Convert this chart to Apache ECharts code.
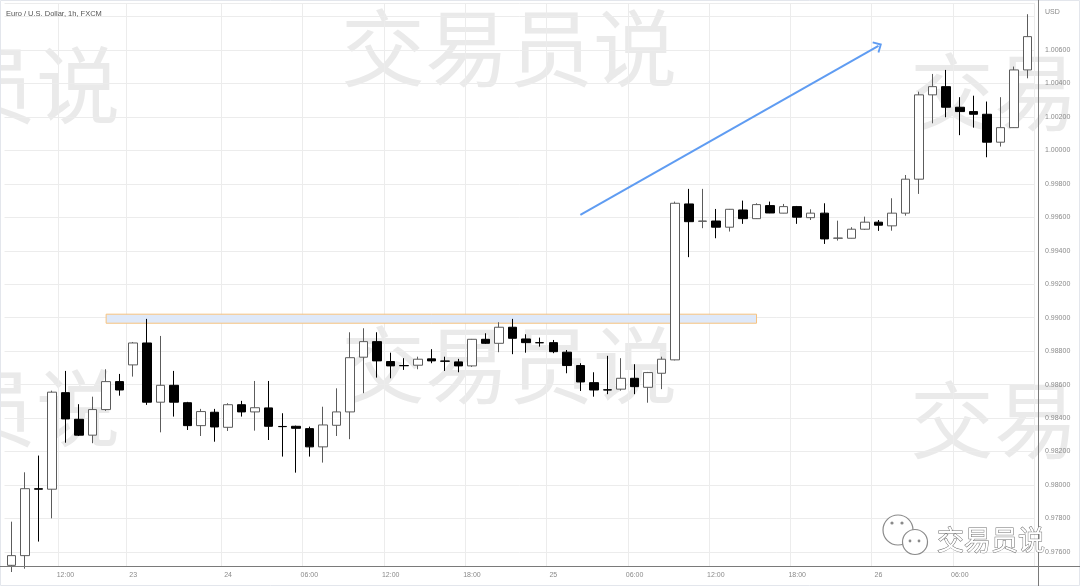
<!DOCTYPE html>
<html>
<head>
<meta charset="utf-8">
<script src="https://cdn.jsdelivr.net/npm/echarts@6/dist/echarts.min.js"></script>
<style>
html,body{margin:0;padding:0;background:#fff;}
#chart{width:1080px;height:586px;}
</style>
</head>
<body>
<div id="chart"></div>
<script>
// Hourly bars (New York time): Fri 21, Sun 23 (session open), Mon 24, Tue 25, Wed 26
const categories = [
  '21 08:00','21 09:00','21 10:00','21 11:00','21 12:00','21 13:00','21 14:00','21 15:00','21 16:00',
  '23 17:00','23 18:00','23 19:00','23 20:00','23 21:00','23 22:00','23 23:00',
  '24 00:00','24 01:00','24 02:00','24 03:00','24 04:00','24 05:00','24 06:00','24 07:00',
  '24 08:00','24 09:00','24 10:00','24 11:00','24 12:00','24 13:00','24 14:00','24 15:00',
  '24 16:00','24 17:00','24 18:00','24 19:00','24 20:00','24 21:00','24 22:00','24 23:00',
  '25 00:00','25 01:00','25 02:00','25 03:00','25 04:00','25 05:00','25 06:00','25 07:00',
  '25 08:00','25 09:00','25 10:00','25 11:00','25 12:00','25 13:00','25 14:00','25 15:00',
  '25 16:00','25 17:00','25 18:00','25 19:00','25 20:00','25 21:00','25 22:00','25 23:00',
  '26 00:00','26 01:00','26 02:00','26 03:00','26 04:00','26 05:00','26 06:00','26 07:00',
  '26 08:00','26 09:00','26 10:00','26 11:00'
];

const opens = [
  0.97520,0.97578,0.97978,0.97975,0.98552,0.98393,0.98298,0.98451,0.98618,
  0.98718,0.98849,0.98495,0.98596,0.98492,0.98355,0.98435,
  0.98345,0.98480,0.98437,0.98461,0.98350,0.98351,0.98337,0.98228,
  0.98357,0.98437,0.98764,0.98857,0.98738,0.98714,0.98716,0.98754,
  0.98741,0.98736,0.98712,0.98871,0.98847,0.98943,0.98873,0.98851,
  0.98851,0.98794,0.98714,0.98612,0.98569,0.98573,0.98638,0.98584,
  0.98668,0.98748,0.99680,0.99576,0.99578,0.99541,0.99644,0.99592,
  0.99670,0.99625,0.99664,0.99598,0.99625,0.99475,0.99475,0.99529,
  0.99571,0.99549,0.99625,0.99828,1.00332,1.00381,1.00258,1.00232,
  1.00216,1.00049,1.00136,1.00481
];
const closes = [
  0.97578,0.97978,0.97975,0.98555,0.98395,0.98298,0.98451,0.98618,0.98568,
  0.98849,0.98495,0.98596,0.98495,0.98355,0.98439,0.98347,
  0.98480,0.98437,0.98462,0.98351,0.98349,0.98339,0.98228,0.98359,
  0.98437,0.98761,0.98857,0.98742,0.98712,0.98713,0.98752,0.98742,
  0.98740,0.98712,0.98871,0.98847,0.98943,0.98877,0.98851,0.98850,
  0.98797,0.98714,0.98616,0.98568,0.98568,0.98638,0.98588,0.98672,
  0.98752,0.99684,0.99574,0.99578,0.99541,0.99648,0.99592,0.99676,
  0.99626,0.99664,0.99601,0.99625,0.99471,0.99476,0.99529,0.99571,
  0.99553,0.99625,0.99828,1.00332,1.00381,1.00258,1.00232,1.00216,
  1.00049,1.00136,1.00481,1.00680
];
const lows = [
  0.97480,0.97500,0.97662,0.97801,0.98253,0.98293,0.98250,0.98443,0.98534,
  0.98648,0.98479,0.98315,0.98409,0.98329,0.98293,0.98259,
  0.98323,0.98409,0.98325,0.98269,0.98170,0.98074,0.98170,0.98134,
  0.98293,0.98274,0.98549,0.98642,0.98638,0.98688,0.98692,0.98728,
  0.98682,0.98674,0.98706,0.98843,0.98794,0.98782,0.98791,0.98827,
  0.98788,0.98668,0.98562,0.98528,0.98543,0.98564,0.98543,0.98492,
  0.98573,0.98745,0.99362,0.99535,0.99475,0.99515,0.99561,0.99590,
  0.99625,0.99624,0.99561,0.99584,0.99441,0.99461,0.99474,0.99525,
  0.99519,0.99520,0.99610,0.99740,1.00162,1.00198,1.00091,1.00136,
  0.99959,1.00023,1.00134,1.00431
];
const highs = [
  0.97781,0.98076,0.98176,0.98564,0.98682,0.98483,0.98528,0.98692,0.98664,
  0.98855,0.98993,0.98891,0.98682,0.98497,0.98455,0.98455,
  0.98489,0.98503,0.98622,0.98622,0.98429,0.98355,0.98349,0.98468,
  0.98578,0.98913,0.98937,0.98913,0.98791,0.98758,0.98767,0.98812,
  0.98767,0.98754,0.98873,0.98907,0.98973,0.98993,0.98901,0.98881,
  0.98867,0.98807,0.98728,0.98674,0.98772,0.98758,0.98722,0.98676,
  0.98767,0.99694,0.99770,0.99770,0.99650,0.99650,0.99700,0.99684,
  0.99694,0.99680,0.99668,0.99648,0.99684,0.99580,0.99541,0.99604,
  0.99584,0.99714,0.99853,1.00351,1.00457,1.00481,1.00318,1.00327,
  1.00292,1.00318,1.00501,1.00814
];

// x-axis tick labels keyed by bar time
const tickLabels = {
  '21 12:00':'12:00','23 17:00':'23','24 00:00':'24','24 06:00':'06:00','24 12:00':'12:00',
  '24 18:00':'18:00','25 00:00':'25','25 06:00':'06:00','25 12:00':'12:00','25 18:00':'18:00',
  '26 00:00':'26','26 06:00':'06:00'
};

// Drawings: resistance zone [startBar, endBar, top, bottom]; arrow [startBar, startPrice, endBar, endPrice]
const zone = ['21 15:00', '25 15:00', 0.99021, 0.98967];
const arrow = ['25 02:00', 0.99614, '26 00:00', 1.00625];

const priceMin = 0.97516;
const priceMax = 1.00881;

const ohlc = categories.map((c, i) => [opens[i], closes[i], lows[i], highs[i]]);

const chart = echarts.init(document.getElementById('chart'), null, {renderer: 'canvas'});
const labelFont = '"Liberation Sans", Roboto, sans-serif';
const wm = '#eaeaea';
const wmFont = '84px "Noto Sans CJK SC"';

chart.setOption({
  backgroundColor: '#ffffff',
  animation: false,
  grid: {left: 4.5, right: 45.7, top: 3, bottom: 20, containLabel: false},
  xAxis: {
    type: 'category',
    data: categories,
    boundaryGap: true,
    axisLine: {show: false},
    axisTick: {show: false},
    axisLabel: {
      interval: (idx, val) => tickLabels[val] !== undefined,
      formatter: (val) => tickLabels[val] || '',
      color: '#8a8a8a', fontSize: 7, fontFamily: labelFont, margin: 6
    },
    splitLine: {
      show: true,
      interval: (idx, val) => tickLabels[val] !== undefined,
      lineStyle: {color: '#ececec', width: 1}
    }
  },
  yAxis: {
    type: 'value',
    position: 'right',
    offset: 3.7,
    min: priceMin,
    max: priceMax,
    splitNumber: 17,
    axisLine: {show: false},
    axisTick: {show: false},
    axisLabel: {
      showMinLabel: false, showMaxLabel: false,
      formatter: (v) => (v > 1.007 ? '' : v.toFixed(5)),
      color: '#8a8a8a', fontSize: 7, fontFamily: labelFont, margin: 7
    },
    splitLine: {show: true, lineStyle: {color: '#ececec', width: 1}}
  },
  series: [{
    type: 'candlestick',
    data: ohlc,
    barWidth: 9,
    clip: true,
    silent: true,
    itemStyle: {
      color: '#ffffff', color0: '#000000',
      borderColor: '#5c5c5c', borderColor0: '#000000', borderWidth: 1
    },
    markArea: {
      silent: true,
      itemStyle: {color: '#dfe9f9', opacity: 1, borderColor: '#f6c27e', borderWidth: 1},
      data: [[{xAxis: zone[0], yAxis: zone[2]}, {xAxis: zone[1], yAxis: zone[3]}]]
    },
    markLine: {
      silent: true,
      symbol: ['none', 'path://M10,0 L20,10 L18,12 L10,4 L2,12 L0,10 Z'],
      symbolSize: [13, 8],
      label: {show: false},
      lineStyle: {color: '#5f9cf2', width: 2, type: 'solid'},
      data: [[{coord: [arrow[0], arrow[1]]}, {coord: [arrow[2], arrow[3]]}]]
    }
  }],
  graphic: [
    // watermarks
    {type: 'text', z: -100, x: -216, y: 85, style: {text: '交易员说', font: wmFont, fill: wm, textVerticalAlign: 'middle'}},
    {type: 'text', z: -100, x: 341, y: 48, style: {text: '交易员说', font: wmFont, fill: wm, textVerticalAlign: 'middle'}},
    {type: 'text', z: -100, x: 910, y: 92, style: {text: '交易员说', font: wmFont, fill: wm, textVerticalAlign: 'middle'}},
    {type: 'text', z: -100, x: -216, y: 408, style: {text: '交易员说', font: wmFont, fill: wm, textVerticalAlign: 'middle'}},
    {type: 'text', z: -100, x: 341, y: 365, style: {text: '交易员说', font: wmFont, fill: wm, textVerticalAlign: 'middle'}},
    {type: 'text', z: -100, x: 910, y: 420, style: {text: '交易员说', font: wmFont, fill: wm, textVerticalAlign: 'middle'}},
    // frame and axis lines
    {type: 'rect', z: 50, shape: {x: 0.5, y: 0.5, width: 1079, height: 585}, style: {fill: 'none', stroke: '#e3e6ec', lineWidth: 1}},
    {type: 'line', z: 50, shape: {x1: 0, y1: 566.5, x2: 1080, y2: 566.5}, style: {stroke: '#7a7a7a', lineWidth: 1}},
    {type: 'line', z: 50, shape: {x1: 1038.5, y1: 0, x2: 1038.5, y2: 586}, style: {stroke: '#7a7a7a', lineWidth: 1}},
    // texts
    {type: 'text', z: 60, x: 6, y: 14, style: {text: 'Euro / U.S. Dollar, 1h, FXCM', font: '7.5px "Liberation Sans", sans-serif', fill: '#555', textVerticalAlign: 'middle'}},
    {type: 'text', z: 60, x: 1045, y: 12, style: {text: 'USD', font: '7px "Liberation Sans", sans-serif', fill: '#8a8a8a', textVerticalAlign: 'middle'}},
    // WeChat badge
    {type: 'circle', z: 70, shape: {cx: 898, cy: 530, r: 15}, style: {fill: '#fff', stroke: '#8a8a8a', lineWidth: 1.2}},
    {type: 'circle', z: 71, shape: {cx: 915, cy: 542, r: 12.5}, style: {fill: '#fff', stroke: '#8a8a8a', lineWidth: 1.2}},
    {type: 'circle', z: 72, shape: {cx: 892, cy: 523, r: 1.6}, style: {fill: '#8a8a8a'}},
    {type: 'circle', z: 72, shape: {cx: 902, cy: 523, r: 1.6}, style: {fill: '#8a8a8a'}},
    {type: 'circle', z: 72, shape: {cx: 910, cy: 541, r: 1.4}, style: {fill: '#8a8a8a'}},
    {type: 'circle', z: 72, shape: {cx: 919, cy: 541, r: 1.4}, style: {fill: '#8a8a8a'}},
    {type: 'text', z: 72, x: 937, y: 540, style: {text: '交易员说', font: '27px "Noto Sans CJK SC"', fill: '#ffffff', stroke: '#6e6e6e', lineWidth: 1, textVerticalAlign: 'middle'}}
  ]
});
</script>
</body>
</html>
